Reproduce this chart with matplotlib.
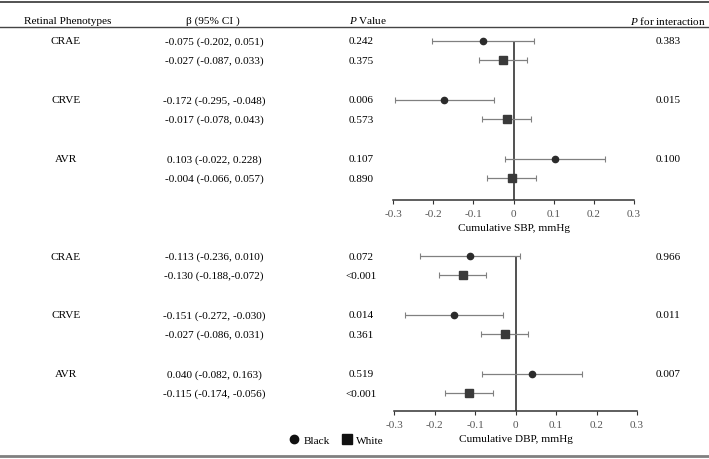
import matplotlib.pyplot as plt
from matplotlib.lines import Line2D

plt.rcParams['font.family'] = ['Liberation Serif', 'DejaVu Serif']
plt.rcParams['font.size'] = 8.1
plt.rcParams['axes.unicode_minus'] = False
plt.rcParams['mathtext.fontset'] = 'custom'
plt.rcParams['mathtext.rm'] = 'Liberation Serif'
plt.rcParams['mathtext.it'] = 'Liberation Serif:italic'

phenotypes = ['CRAE', 'CRVE', 'AVR']

sbp_black_beta = [-0.075, -0.172, 0.103]
sbp_black_lo = [-0.202, -0.295, -0.022]
sbp_black_hi = [0.051, -0.048, 0.228]
sbp_black_ci = ['-0.075 (-0.202, 0.051)', '-0.172 (-0.295, -0.048)', '0.103 (-0.022, 0.228)']
sbp_black_p = ['0.242', '0.006', '0.107']
sbp_white_beta = [-0.027, -0.017, -0.004]
sbp_white_lo = [-0.087, -0.078, -0.066]
sbp_white_hi = [0.033, 0.043, 0.057]
sbp_white_ci = ['-0.027 (-0.087, 0.033)', '-0.017 (-0.078, 0.043)', '-0.004 (-0.066, 0.057)']
sbp_white_p = ['0.375', '0.573', '0.890']
sbp_interaction = ['0.383', '0.015', '0.100']

dbp_black_beta = [-0.113, -0.151, 0.040]
dbp_black_lo = [-0.236, -0.272, -0.082]
dbp_black_hi = [0.010, -0.030, 0.163]
dbp_black_ci = ['-0.113 (-0.236, 0.010)', '-0.151 (-0.272, -0.030)', '0.040 (-0.082, 0.163)']
dbp_black_p = ['0.072', '0.014', '0.519']
dbp_white_beta = [-0.130, -0.027, -0.115]
dbp_white_lo = [-0.188, -0.086, -0.174]
dbp_white_hi = [-0.072, 0.031, -0.056]
dbp_white_ci = ['-0.130 (-0.188,-0.072)', '-0.027 (-0.086, 0.031)', '-0.115 (-0.174, -0.056)']
dbp_white_p = ['<0.001', '0.361', '<0.001']
dbp_interaction = ['0.966', '0.011', '0.007']

xticks = [-0.3, -0.2, -0.1, 0, 0.1, 0.2, 0.3]
xtick_labels = ['-0.3', '-0.2', '-0.1', '0', '0.1', '0.2', '0.3']

W, H = 709, 460
fig = plt.figure(figsize=(W / 100, H / 100), dpi=100)


def fx(x):
    return x / W


def fy(y):
    return 1 - y / H


def hline(y, lw, color):
    fig.add_artist(Line2D([0, 1], [fy(y), fy(y)], transform=fig.transFigure, color=color, lw=lw))


hline(3, 1.3, '#444444')
hline(28, 1.0, '#444444')
hline(457, 2.0, '#808080')

# header
fig.text(fx(68), fy(21), 'Retinal Phenotypes', ha='center', va='center')
fig.text(fx(213), fy(21), 'β (95% CI )', ha='center', va='center')
fig.text(fx(349), fy(21), r'$P$ Value', ha='left', va='center')
fig.text(fx(706), fy(21), r'$P$ for interaction', ha='right', va='center')

ROW = 19.2
GROUP = 3.07
row_black = [g * GROUP for g in range(3)]
row_white = [g * GROUP + 1 for g in range(3)]


def panel(y0, y_axis, x_left, x_right, black, white, label):
    (bb, blo, bhi, bci, bp), (wb, wlo, whi, wci, wp) = black, white
    ax = fig.add_axes([fx(x_left), fy(y_axis), fx(x_right) - fx(x_left), (y_axis - (y0 - 7)) / H])
    ybot = (y_axis - y0) / ROW
    ax.set_ylim(ybot, -7 / ROW)
    ax.set_xlim(-0.3, 0.3)
    ax.vlines(0, 0, ybot, color='#222222', lw=1.1)
    ax.errorbar(bb, row_black, xerr=[[b - l for b, l in zip(bb, blo)], [h - b for b, h in zip(bb, bhi)]],
                fmt='o', color='#2b2b2b', ms=4.5, ecolor='#808080', elinewidth=0.9, capsize=2, capthick=0.8)
    ax.errorbar(wb, row_white, xerr=[[b - l for b, l in zip(wb, wlo)], [h - b for b, h in zip(wb, whi)]],
                fmt='s', color='#3a3a3a', ms=6.0, ecolor='#808080', elinewidth=0.9, capsize=2, capthick=0.8)
    for s in ['left', 'right', 'top']:
        ax.spines[s].set_visible(False)
    ax.spines['bottom'].set_color('#333333')
    ax.spines['bottom'].set_linewidth(1.1)
    ax.set_yticks([])
    ax.set_xticks(xticks)
    ax.set_xticklabels(xtick_labels)
    ax.tick_params(axis='x', direction='out', length=3, width=0.8, color='#333333',
                   labelcolor='#555555', labelsize=8.1, pad=3.4)
    ax.set_xlabel(label, fontsize=8.1, labelpad=3.5)
    ax.patch.set_alpha(0)
    for i, name in enumerate(phenotypes):
        yb = y0 + row_black[i] * ROW
        yw = y0 + row_white[i] * ROW
        fig.text(fx(66), fy(yb), name, ha='center', va='center')
        fig.text(fx(214), fy(yb), bci[i], ha='center', va='center')
        fig.text(fx(214), fy(yw), wci[i], ha='center', va='center')
        fig.text(fx(361), fy(yb), bp[i], ha='center', va='center')
        fig.text(fx(361), fy(yw), wp[i], ha='center', va='center')
    return ax


panel(42, 201, 393, 634,
      (sbp_black_beta, sbp_black_lo, sbp_black_hi, sbp_black_ci, sbp_black_p),
      (sbp_white_beta, sbp_white_lo, sbp_white_hi, sbp_white_ci, sbp_white_p),
      'Cumulative SBP, mmHg')
panel(257, 412, 394, 637,
      (dbp_black_beta, dbp_black_lo, dbp_black_hi, dbp_black_ci, dbp_black_p),
      (dbp_white_beta, dbp_white_lo, dbp_white_hi, dbp_white_ci, dbp_white_p),
      'Cumulative DBP, mmHg')

for i in range(3):
    fig.text(fx(668), fy(42 + row_black[i] * ROW), sbp_interaction[i], ha='center', va='center')
    fig.text(fx(668), fy(257 + row_black[i] * ROW), dbp_interaction[i], ha='center', va='center')

handles = [Line2D([], [], marker='o', ls='', color='#111111', ms=6),
           Line2D([], [], marker='s', ls='', color='#111111', ms=6.5)]
fig.legend(handles, ['Black', 'White'], loc='center', bbox_to_anchor=(fx(336), fy(441)),
           ncol=2, frameon=False, handletextpad=0.3, columnspacing=1.0, handlelength=1.0,
           fontsize=8.1)

fig.savefig('out.png', dpi=100)
